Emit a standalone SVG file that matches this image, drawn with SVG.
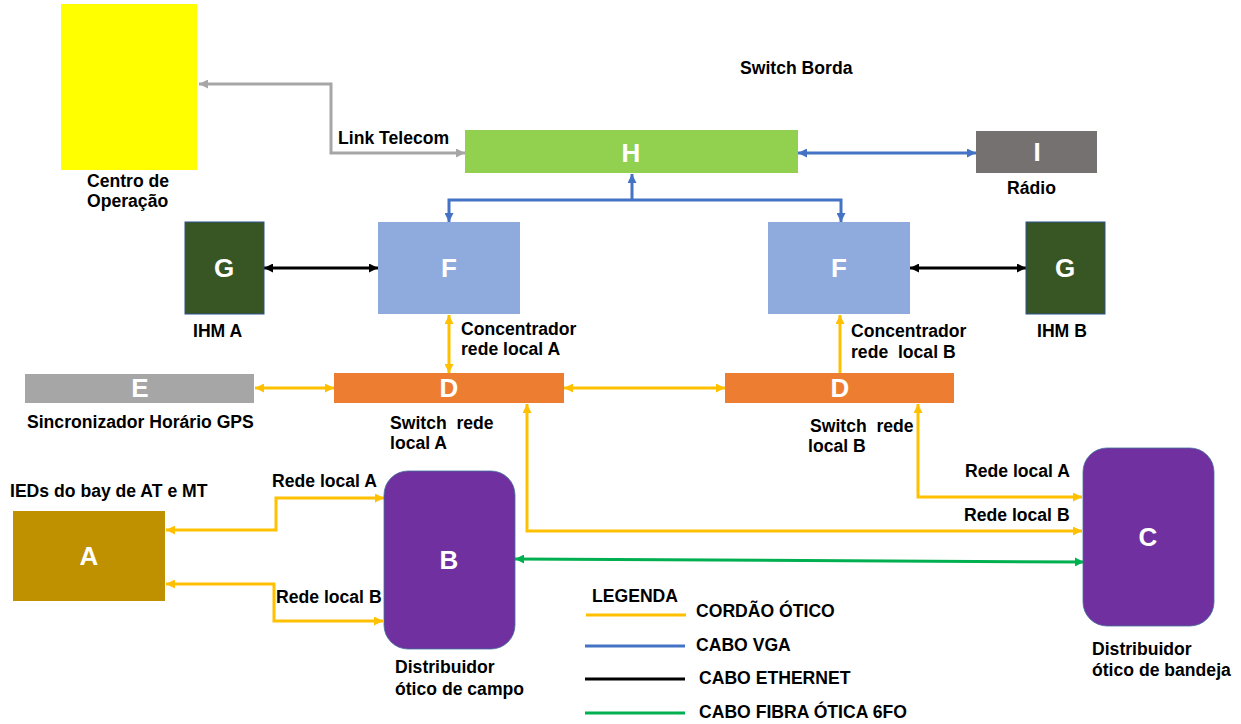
<svg xmlns="http://www.w3.org/2000/svg" width="1241" height="724" viewBox="0 0 1241 724">
<style>
.lbl{font-family:"Liberation Sans",Arial,sans-serif;font-weight:bold;font-size:17.6px;fill:#000}
.big{font-family:"Liberation Sans",Arial,sans-serif;font-weight:bold;font-size:26px;fill:#fff;text-anchor:middle}
.c{fill:none;stroke-width:3}
.y{stroke:#ffc000}
.b{stroke:#4472c4}
.k{stroke:#000}
.g{stroke:#00b050}
.gr{stroke:#a6a6a6}
</style>
<defs>
<marker id="ay" viewBox="0 0 10 10" refX="10" refY="5" markerWidth="9" markerHeight="9" markerUnits="userSpaceOnUse" orient="auto-start-reverse"><path d="M0,0 L10,5 L0,10 z" fill="#ffc000"/></marker>
<marker id="ab" viewBox="0 0 10 10" refX="10" refY="5" markerWidth="9" markerHeight="9" markerUnits="userSpaceOnUse" orient="auto-start-reverse"><path d="M0,0 L10,5 L0,10 z" fill="#4472c4"/></marker>
<marker id="ak" viewBox="0 0 10 10" refX="10" refY="5" markerWidth="9" markerHeight="9" markerUnits="userSpaceOnUse" orient="auto-start-reverse"><path d="M0,0 L10,5 L0,10 z" fill="#000"/></marker>
<marker id="ag" viewBox="0 0 10 10" refX="10" refY="5" markerWidth="9" markerHeight="9" markerUnits="userSpaceOnUse" orient="auto-start-reverse"><path d="M0,0 L10,5 L0,10 z" fill="#00b050"/></marker>
<marker id="agr" viewBox="0 0 10 10" refX="10" refY="5" markerWidth="9" markerHeight="9" markerUnits="userSpaceOnUse" orient="auto-start-reverse"><path d="M0,0 L10,5 L0,10 z" fill="#a6a6a6"/></marker>
</defs>
<rect width="1241" height="724" fill="#fff"/>

<g id="connectors">
<path class="c gr" d="M465,153 H331 V84 H199" marker-start="url(#agr)" marker-end="url(#agr)"/>
<path class="c b" d="M798,153 H976" marker-start="url(#ab)" marker-end="url(#ab)"/>
<path class="c b" d="M632,200 V174" marker-end="url(#ab)"/>
<path class="c b" d="M449,222 V200 H841 V222" marker-start="url(#ab)" marker-end="url(#ab)"/>
<path class="c k" d="M264,268 H378" marker-start="url(#ak)" marker-end="url(#ak)"/>
<path class="c k" d="M910,268 H1026" marker-start="url(#ak)" marker-end="url(#ak)"/>
<path class="c y" d="M449,315 V373" marker-start="url(#ay)" marker-end="url(#ay)"/>
<path class="c y" d="M840,373 V315" marker-end="url(#ay)"/>
<path class="c y" d="M255,388 H334" marker-start="url(#ay)" marker-end="url(#ay)"/>
<path class="c y" d="M564,388 H725" marker-start="url(#ay)" marker-end="url(#ay)"/>
<path class="c y" d="M527,404 V531 H1082" marker-start="url(#ay)" marker-end="url(#ay)"/>
<path class="c y" d="M918,404 V497 H1082" marker-start="url(#ay)" marker-end="url(#ay)"/>
<path class="c y" d="M384,498 H276 V530 H166" marker-start="url(#ay)" marker-end="url(#ay)"/>
<path class="c y" d="M166,584 H274 V621 H383" marker-start="url(#ay)" marker-end="url(#ay)"/>
<path class="c g" d="M515,559 L1084,562" marker-start="url(#ag)" marker-end="url(#ag)"/>
</g>

<g id="centro">
<rect x="61" y="4" width="136" height="166" fill="#ffff00"/>
<text class="lbl" x="87" y="187">Centro de</text>
<text class="lbl" x="87" y="207">Operação</text>
</g>
<g id="link-telecom"><text class="lbl" x="338" y="144">Link Telecom</text></g>
<g id="H">
<rect x="465" y="130" width="333" height="43" fill="#92d050"/>
<text class="big" x="631" y="162">H</text>
<text class="lbl" x="740" y="74">Switch Borda</text>
</g>
<g id="I">
<rect x="976" y="131" width="121" height="42" fill="#767171"/>
<text class="big" x="1037" y="161">I</text>
<text class="lbl" x="1007" y="194">Rádio</text>
</g>
<g id="G-A">
<rect x="185" y="222" width="79" height="92" fill="#375623" stroke="#2f528f" stroke-width="1"/>
<text class="big" x="224" y="277">G</text>
<text class="lbl" x="193" y="337">IHM A</text>
</g>
<g id="F-A">
<rect x="378" y="222" width="142" height="92" fill="#8faadc"/>
<text class="big" x="449" y="277">F</text>
</g>
<g id="F-B">
<rect x="768" y="222" width="142" height="92" fill="#8faadc"/>
<text class="big" x="839" y="277">F</text>
</g>
<g id="G-B">
<rect x="1026" y="222" width="79" height="92" fill="#375623" stroke="#2f528f" stroke-width="1"/>
<text class="big" x="1065" y="277">G</text>
<text class="lbl" x="1037" y="337">IHM B</text>
</g>
<g id="conc-A">
<text class="lbl" x="461" y="335">Concentrador</text>
<text class="lbl" x="461" y="355">rede local A</text>
</g>
<g id="conc-B">
<text class="lbl" x="851" y="337">Concentrador</text>
<text class="lbl" x="851" y="358" xml:space="preserve">rede  local B</text>
</g>
<g id="E">
<rect x="25" y="374" width="229" height="29" fill="#a6a6a6"/>
<text class="big" x="140" y="397">E</text>
<text class="lbl" x="27" y="428">Sincronizador Horário GPS</text>
</g>
<g id="D-A">
<rect x="334" y="373" width="230" height="30" fill="#ed7d31"/>
<text class="big" x="449" y="397">D</text>
<text class="lbl" x="390" y="429" xml:space="preserve">Switch  rede</text>
<text class="lbl" x="390" y="449">local A</text>
</g>
<g id="D-B">
<rect x="725" y="373" width="229" height="30" fill="#ed7d31"/>
<text class="big" x="840" y="397">D</text>
<text class="lbl" x="810" y="432" xml:space="preserve">Switch  rede</text>
<text class="lbl" x="808" y="452">local B</text>
</g>
<g id="A">
<rect x="13" y="511" width="152" height="90" fill="#bf9000"/>
<text class="big" x="89" y="565">A</text>
<text class="lbl" x="10" y="497">IEDs do bay de AT e MT</text>
</g>
<g id="B">
<rect x="384" y="471" width="131" height="178" rx="24" fill="#7030a0" stroke="#41719c" stroke-width="0.8"/>
<text class="big" x="449" y="569">B</text>
<text class="lbl" x="395" y="673">Distribuidor</text>
<text class="lbl" x="395" y="695">ótico de campo</text>
</g>
<g id="C">
<rect x="1083" y="448" width="131" height="178" rx="24" fill="#7030a0" stroke="#41719c" stroke-width="0.8"/>
<text class="big" x="1148" y="546">C</text>
<text class="lbl" x="1092" y="655">Distribuidor</text>
<text class="lbl" x="1092" y="676">ótico de bandeja</text>
</g>
<g id="link-labels">
<text class="lbl" x="272" y="487">Rede local A</text>
<text class="lbl" x="276" y="603">Rede local B</text>
<text class="lbl" x="965" y="477">Rede local A</text>
<text class="lbl" x="964" y="521">Rede local B</text>
</g>
<g id="legenda">
<text class="lbl" x="592" y="602">LEGENDA</text>
<line x1="586" y1="615" x2="686" y2="615" class="c y"/>
<text class="lbl" x="696" y="617">CORDÃO ÓTICO</text>
<line x1="585" y1="646" x2="685" y2="646" class="c b"/>
<text class="lbl" x="696" y="651">CABO VGA</text>
<line x1="585" y1="679" x2="685" y2="679" class="c k"/>
<text class="lbl" x="699" y="684">CABO ETHERNET</text>
<line x1="585" y1="713" x2="685" y2="713" class="c g"/>
<text class="lbl" x="699" y="718">CABO FIBRA ÓTICA 6FO</text>
</g>
</svg>
